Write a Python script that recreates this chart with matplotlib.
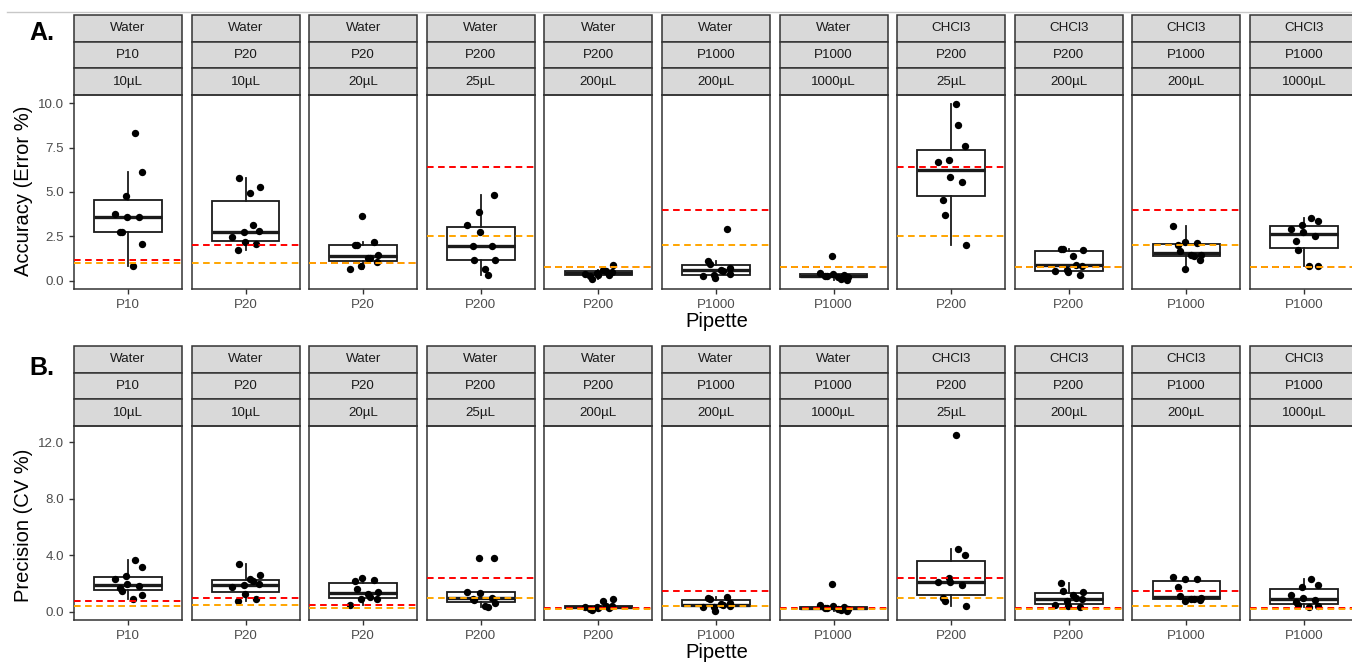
import numpy as np
import matplotlib
matplotlib.use("Agg")
from matplotlib import pyplot as plt
from matplotlib.patches import Rectangle
from matplotlib.lines import Line2D

plt.rcParams['font.family'] = ['Liberation Sans', 'DejaVu Sans']

# facet labels
solvent = ['Water'] * 7 + ['CHCl3'] * 4
pipette = ['P10', 'P20', 'P20', 'P200', 'P200', 'P1000', 'P1000', 'P200', 'P200', 'P1000', 'P1000']
volume = ['10µL', '10µL', '20µL', '25µL', '200µL', '200µL', '1000µL', '25µL', '200µL', '200µL', '1000µL']

# accuracy (error %) per facet
accuracy = [
    [8.31, 6.10, 4.79, 3.78, 3.60, 3.58, 2.73, 2.73, 2.10, 0.86],
    [5.79, 5.28, 4.94, 3.13, 2.79, 2.75, 2.45, 2.17, 2.10, 1.72],
    [3.63, 2.17, 2.02, 2.02, 1.48, 1.29, 1.29, 1.07, 0.82, 0.69],
    [4.83, 3.90, 3.15, 2.73, 1.98, 1.98, 1.20, 1.16, 0.67, 0.34],
    [0.88, 0.62, 0.55, 0.50, 0.45, 0.42, 0.36, 0.32, 0.30, 0.12],
    [2.92, 1.14, 0.97, 0.73, 0.64, 0.55, 0.41, 0.32, 0.26, 0.17],
    [1.42, 0.45, 0.38, 0.33, 0.30, 0.28, 0.25, 0.22, 0.10, 0.06],
    [9.96, 8.75, 7.57, 6.82, 6.67, 5.84, 5.56, 4.53, 3.71, 2.04],
    [1.82, 1.80, 1.76, 1.39, 0.92, 0.86, 0.64, 0.55, 0.49, 0.34],
    [3.11, 2.19, 2.12, 2.04, 1.69, 1.48, 1.44, 1.39, 1.20, 0.69],
    [3.54, 3.35, 3.16, 2.92, 2.75, 2.55, 2.23, 1.76, 0.82, 0.82],
]
acc_red = [1.2, 2.0, 1.0, 6.4, 0.8, 4.0, 0.8, 6.4, 0.8, 4.0, 0.8]
acc_orange = [1.0, 1.0, 1.0, 2.5, 0.8, 2.0, 0.8, 2.5, 0.8, 2.0, 0.8]

# precision (CV %) per facet
precision = [
    [3.64, 3.17, 2.53, 2.30, 1.95, 1.85, 1.66, 1.51, 1.23, 0.92],
    [3.41, 2.60, 2.30, 2.18, 1.98, 1.90, 1.75, 1.30, 0.88, 0.80],
    [2.37, 2.25, 2.18, 1.59, 1.42, 1.30, 1.07, 0.95, 0.88, 0.52],
    [3.83, 3.79, 1.42, 1.35, 1.00, 0.95, 0.85, 0.62, 0.45, 0.33],
    [0.88, 0.76, 0.45, 0.42, 0.36, 0.32, 0.30, 0.26, 0.22, 0.17],
    [1.04, 0.99, 0.88, 0.64, 0.55, 0.50, 0.42, 0.38, 0.33, 0.09],
    [1.99, 0.47, 0.40, 0.33, 0.28, 0.26, 0.24, 0.20, 0.17, 0.05],
    [12.52, 4.43, 4.00, 2.40, 2.13, 2.13, 1.94, 0.99, 0.76, 0.40],
    [2.08, 1.51, 1.40, 1.18, 0.99, 0.88, 0.76, 0.52, 0.40, 0.33],
    [2.49, 2.32, 2.30, 1.75, 1.10, 0.99, 0.95, 0.88, 0.83, 0.76],
    [2.34, 1.87, 1.75, 1.23, 0.99, 0.85, 0.71, 0.52, 0.40, 0.33],
]
prec_red = [0.8, 1.0, 0.5, 2.4, 0.3, 1.5, 0.3, 2.4, 0.3, 1.5, 0.3]
prec_orange = [0.4, 0.5, 0.3, 1.0, 0.2, 0.4, 0.2, 1.0, 0.2, 0.4, 0.2]

# fixed horizontal jitter pattern for the points
jitter = np.array([0.08, 0.15, -0.02, -0.15, -0.01, 0.12, -0.09, -0.07, 0.16, 0.05])

W, H = 1352, 663
fig = plt.figure(figsize=(W / 100, H / 100), dpi=100)

STRIP_H = 26.7
PANEL_H = 194
dash = (0, (3.4, 2.3))


def draw_row(top_px, values, reds, oranges, ylim, yticks, ylabel, tag, tag_y, ylabel_y, xlab_y):
    for i in range(11):
        left = 74 + i * 117.6
        ax = fig.add_axes([left / W, 1 - (top_px + PANEL_H) / H, 108 / W, PANEL_H / H])
        vals = values[i]
        ax.boxplot([vals], positions=[1], widths=0.75, showfliers=False, showcaps=False,
                   patch_artist=True,
                   boxprops=dict(facecolor='white', edgecolor='#1a1a1a', linewidth=1.3),
                   whiskerprops=dict(color='#1a1a1a', linewidth=1.3),
                   medianprops=dict(color='#1a1a1a', linewidth=2.4))
        ax.scatter(1 + np.roll(jitter, 3 * i), vals, s=28, color='black', zorder=3, linewidths=0)
        ax.axhline(reds[i], color='red', linestyle=dash, linewidth=1.4, zorder=4)
        ax.axhline(oranges[i], color='orange', linestyle=dash, linewidth=1.4, zorder=4)
        ax.set_xlim(0.4, 1.6)
        ax.set_ylim(*ylim)
        ax.set_xticks([1])
        ax.set_xticklabels([pipette[i]])
        ax.set_yticks(yticks)
        ax.set_yticklabels(['%.1f' % t for t in yticks])
        ax.tick_params(colors='#333333', labelcolor='#4D4D4D', labelsize=9.6, length=3.5, width=1)
        if i > 0:
            ax.tick_params(axis='y', left=False, labelleft=False)
        for sp in ax.spines.values():
            sp.set_color('#333333')
            sp.set_linewidth(1.1)
        h = STRIP_H / PANEL_H
        for k, lab in enumerate([solvent[i], pipette[i], volume[i]]):
            y0 = 1 + (2 - k) * h
            ax.add_patch(Rectangle((0, y0), 1, h, transform=ax.transAxes, facecolor='#D9D9D9',
                                   edgecolor='#333333', linewidth=1.1, clip_on=False))
            ax.text(0.5, y0 + h / 2, lab, transform=ax.transAxes, ha='center', va='center',
                    fontsize=9.6, color='#1a1a1a')
    fig.text(42 / W, 1 - tag_y / H, tag, fontsize=18, fontweight='bold', ha='center', va='center')
    fig.text(24 / W, 1 - ylabel_y / H, ylabel, fontsize=14.5, rotation=90, ha='center', va='center')
    fig.text(717 / W, 1 - xlab_y / H, 'Pipette', fontsize=14.5, ha='center', va='center')


draw_row(95, accuracy, acc_red, acc_orange, (-0.45, 10.45), [0, 2.5, 5, 7.5, 10],
         'Accuracy (Error %)', 'A.', 33, 191, 321)
draw_row(426, precision, prec_red, prec_orange, (-0.57, 13.15), [0, 4, 8, 12],
         'Precision (CV %)', 'B.', 368, 525, 652)

fig.add_artist(Line2D([7 / W, 1], [1 - 12 / H, 1 - 12 / H], color='#C8C8C8', linewidth=1))

fig.savefig('out.png', dpi=100)
